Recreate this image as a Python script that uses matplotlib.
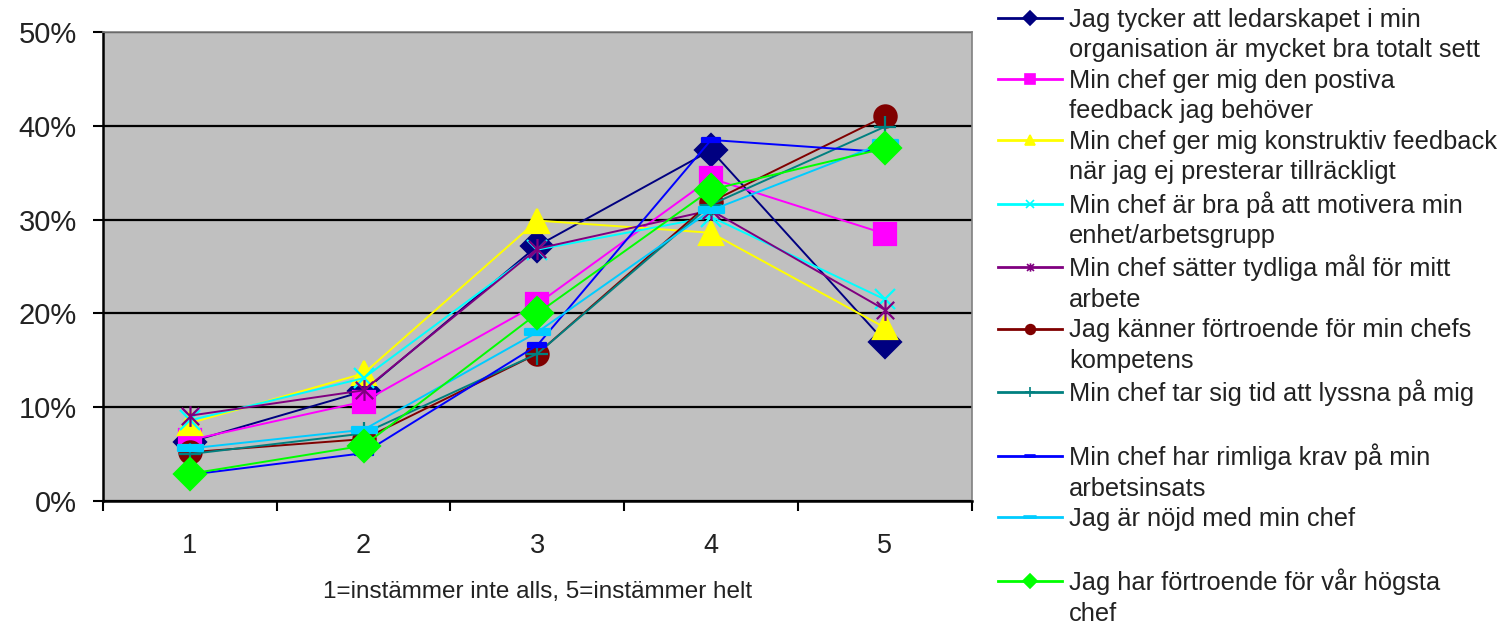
import matplotlib.pyplot as plt
from matplotlib.lines import Line2D
from matplotlib.path import Path

plt.rcParams['font.family'] = ['Liberation Sans', 'DejaVu Sans']

# svarsalternativ 1-5
svar = [1, 2, 3, 4, 5]

# andel svar per fråga (%)
ledarskap_totalt = [6.3, 11.7, 27.2, 37.4, 17.0]
positiv_feedback = [6.5, 10.6, 21.0, 34.4, 28.5]
konstruktiv_feedback = [8.3, 13.6, 29.9, 28.6, 18.5]
motivera_enhet = [8.6, 13.1, 26.8, 30.3, 21.5]
tydliga_mal = [9.1, 11.8, 26.9, 31.0, 20.4]
chefens_kompetens = [5.2, 6.6, 15.7, 31.9, 41.0]
lyssnar = [5.0, 7.2, 15.7, 31.6, 39.9]
rimliga_krav = [2.8, 5.1, 16.6, 38.5, 37.2]
nojd_med_chef = [5.6, 7.6, 18.0, 31.0, 38.2]
hogsta_chef = [2.9, 5.9, 20.0, 33.2, 37.6]

etiketter = [
    ('Jag tycker att ledarskapet i min', 'organisation är mycket bra totalt sett'),
    ('Min chef ger mig den postiva', 'feedback jag behöver'),
    ('Min chef ger mig konstruktiv feedback', 'när jag ej presterar tillräckligt'),
    ('Min chef är bra på att motivera min', 'enhet/arbetsgrupp'),
    ('Min chef sätter tydliga mål för mitt', 'arbete'),
    ('Jag känner förtroende för min chefs', 'kompetens'),
    ('Min chef tar sig tid att lyssna på mig', ' '),
    ('Min chef har rimliga krav på min', 'arbetsinsats'),
    ('Jag är nöjd med min chef', ' '),
    ('Jag har förtroende för vår högsta', 'chef'),
]

# egna markörer: stjärna (x + lodrätt streck) och streck
stjarna = Path([(-1, -1), (1, 1), (-1, 1), (1, -1), (0, -1.2), (0, 1.2)],
               [Path.MOVETO, Path.LINETO, Path.MOVETO, Path.LINETO,
                Path.MOVETO, Path.LINETO])
streck = Path([(-1, -0.22), (1, -0.22), (1, 0.22), (-1, 0.22), (-1, -0.22)],
              [Path.MOVETO, Path.LINETO, Path.LINETO, Path.LINETO, Path.CLOSEPOLY])

# (data, färg, markör, storlek i diagrammet, storlek i förklaringen)
serier = [
    (ledarskap_totalt, '#000080', 'D', 16, 7),
    (positiv_feedback, '#FF00FF', 's', 16, 7),
    (konstruktiv_feedback, '#FFFF00', '^', 17, 7),
    (motivera_enhet, '#00FFFF', 'x', 15, 6),
    (tydliga_mal, '#800080', stjarna, 15, 6),
    (chefens_kompetens, '#800000', 'o', 16, 7),
    (lyssnar, '#008080', '+', 16, 7),
    (rimliga_krav, '#0000FF', streck, 13, 7),
    (nojd_med_chef, '#00CCFF', streck, 18, 9),
    (hogsta_chef, '#00FF00', 'D', 16, 7),
]

fig = plt.figure(figsize=(15.04, 6.29), dpi=100)
ax = fig.add_axes([0.0685, 0.2035, 0.5775, 0.7455])
ax.set_facecolor('#C0C0C0')

handles = []
labels = []
for (varden, farg, mark, ms, ms_leg), (rad1, rad2) in zip(serier, etiketter):
    ax.plot(svar, varden, color=farg, lw=1.4, marker=mark, ms=ms,
            mfc=farg, mec=farg, mew=1.6, zorder=3)
    handles.append(Line2D([], [], color=farg, lw=2, marker=mark, ms=ms_leg,
                          mfc=farg, mec=farg, mew=1.2))
    labels.append(rad1)
    handles.append(Line2D([], [], linestyle='none', marker='none'))
    labels.append(rad2)

ax.set_xlim(0.5, 5.5)
ax.set_ylim(0, 50)

# y-axel
ax.set_yticks(range(0, 51, 10))
ax.set_yticklabels([f'{v}%' for v in range(0, 51, 10)])
ax.grid(axis='y', color='black', lw=1.6, zorder=1)
ax.tick_params(axis='y', direction='out', length=7, width=1.5,
               pad=12, labelsize=21, colors='black', labelcolor='#222222')

# x-axel: streck mellan kategorierna, etiketter i mitten
ax.set_xticks([0.5, 1.5, 2.5, 3.5, 4.5, 5.5])
ax.set_xticklabels([])
ax.set_xticks(svar, minor=True)
ax.set_xticklabels([str(s) for s in svar], minor=True)
ax.tick_params(axis='x', which='major', direction='out', length=7, width=1.5)
ax.tick_params(axis='x', which='minor', length=0, pad=23, labelsize=19.5,
               labelcolor='#222222')
ax.set_xlabel('1=instämmer inte alls, 5=instämmer helt', fontsize=17.5,
              color='#222222')
ax.xaxis.set_label_coords(0.5, -0.17)

for sida in ['left', 'bottom']:
    ax.spines[sida].set_color('black')
    ax.spines[sida].set_linewidth(1.8)
for sida in ['top', 'right']:
    ax.spines[sida].set_color('#808080')
    ax.spines[sida].set_linewidth(1.2)

fig.legend(handles, labels, loc='upper left', bbox_to_anchor=(0.6636, 0.988),
           frameon=False, fontsize=18.3, borderpad=0, borderaxespad=0,
           handlelength=2.5, handletextpad=0.3, labelspacing=0.258,
           labelcolor='#222222')

fig.savefig('out.png', dpi=100)
